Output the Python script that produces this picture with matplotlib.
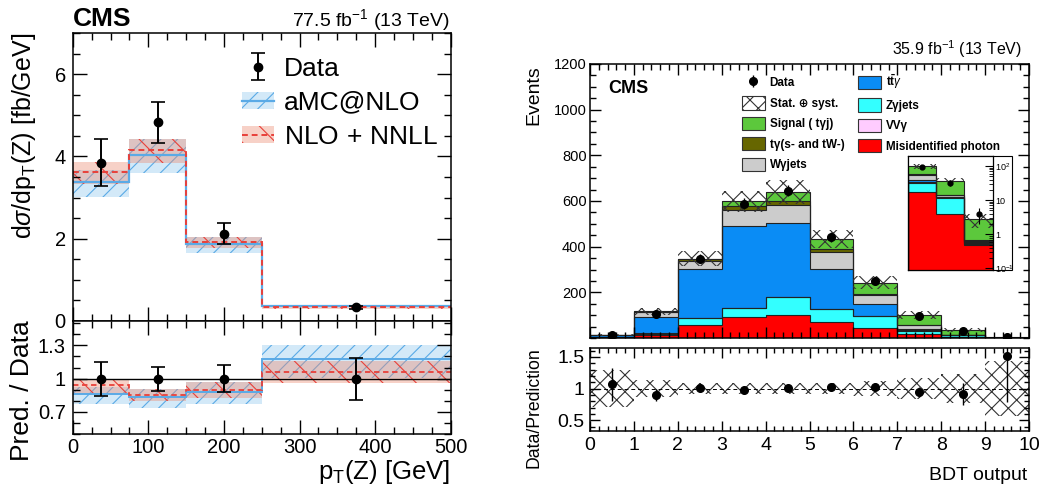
import numpy as np
import matplotlib.pyplot as plt
from matplotlib.patches import Patch, Rectangle
from matplotlib.lines import Line2D
from matplotlib.ticker import MultipleLocator, FixedLocator, NullFormatter

plt.rcParams['font.family'] = ['Liberation Sans', 'DejaVu Sans']
plt.rcParams['mathtext.fontset'] = 'custom'
plt.rcParams['mathtext.rm'] = 'Liberation Sans'
plt.rcParams['mathtext.it'] = 'Liberation Sans:italic'
plt.rcParams['mathtext.bf'] = 'Liberation Sans:bold'
plt.rcParams['hatch.linewidth'] = 0.8

# ---- left: differential cross section in pT(Z)
pt_edges = [0, 75, 150, 250, 500]
pt_centers = [37.5, 112.5, 200, 375]
xs_data = [3.85, 4.83, 2.12, 0.33]
xs_data_hi = [4.42, 5.33, 2.37, 0.36]
xs_data_lo = [3.28, 4.32, 1.86, 0.30]
amc = [3.38, 4.03, 1.88, 0.37]
amc_hi = [3.68, 4.42, 2.05, 0.40]
amc_lo = [3.02, 3.59, 1.66, 0.34]
nnll = [3.62, 4.15, 1.92, 0.33]
nnll_hi = [3.86, 4.43, 2.05, 0.37]
nnll_lo = [3.32, 3.83, 1.78, 0.30]

ratio_data = [1.0, 1.0, 1.0, 1.0]
ratio_data_hi = [1.153, 1.107, 1.12, 1.187]
ratio_data_lo = [0.847, 0.887, 0.88, 0.81]
amc_ratio = [0.862, 0.83, 0.88, 1.18]
amc_ratio_hi = [0.92, 0.91, 0.97, 1.30]
amc_ratio_lo = [0.773, 0.734, 0.773, 1.01]
nnll_ratio = [0.94, 0.856, 0.90, 1.06]
nnll_ratio_hi = [0.988, 0.91, 0.97, 1.16]
nnll_ratio_lo = [0.862, 0.80, 0.826, 0.963]

# ---- right: BDT output
bdt_edges = np.arange(0, 11)
bdt_centers = np.arange(0.5, 10, 1.0)
misid = [2, 15, 55, 90, 99, 72, 43, 17.5, 3.8, 0.46]
zgam = [1.5, 4, 32, 40, 79, 53, 53, 14.5, 7.8, 0.05]
vvg = [0.3, 1, 1, 1, 1, 1, 1, 3, 0.5, 0.02]
ttg = [7.5, 71, 213, 359, 325, 178, 52, 4, 0.4, 0.05]
wg = [2, 22, 37, 72, 77, 73, 41, 17, 1.5, 0.05]
tg = [0.2, 1, 7, 15, 18, 11, 4, 1, 0.3, 0.02]
signal = [0.5, 4, 3, 21, 40, 47, 49, 43, 22, 2.1]
bdt_data = [15, 106, 348, 587, 645, 442, 251, 95, 32, 4]
bdt_data_err = [4, 10, 19, 24, 25, 21, 16, 10, 6, 2]
unc_rel = [0.29, 0.13, 0.09, 0.08, 0.08, 0.09, 0.12, 0.17, 0.23, 0.43]
bdt_ratio = [1.065, 0.90, 1.01, 0.984, 1.01, 1.02, 1.03, 0.94, 0.91, 1.52]
bdt_ratio_err = [0.26, 0.09, 0.05, 0.04, 0.04, 0.05, 0.06, 0.08, 0.17, 0.74]

c_red = '#ff0000'
c_cyan = '#33ffff'
c_pink = '#ffccff'
c_blue = '#0a8cf5'
c_grey = '#cccccc'
c_olive = '#666600'
c_green = '#5cc83c'
c_bline = '#5aaae6'
c_bfill = '#d3e9f8'
c_rline = '#e8403a'
c_rfill = (0.93, 0.55, 0.45, 0.4)

W, H = 1049, 492
fig = plt.figure(figsize=(W / 100, H / 100), dpi=100)


def box(x0, y0, x1, y1):
    return [x0 / W, 1 - y1 / H, (x1 - x0) / W, (y1 - y0) / H]


def style(ax, major, minor, pad):
    ax.tick_params(which='both', direction='in', top=True, right=True, width=1.0)
    ax.tick_params(which='major', length=major, pad=pad)
    ax.tick_params(which='minor', length=minor)
    for s in ax.spines.values():
        s.set_linewidth(1.1)


ax1 = fig.add_axes(box(72.7, 33, 450.7, 321))
ax2 = fig.add_axes(box(72.7, 321, 450.7, 434))

# bands
ax1.stairs(amc_hi, pt_edges, baseline=amc_lo, fill=True, facecolor=c_bfill,
           edgecolor=c_bline, hatch='//', linewidth=0)
ax1.stairs(nnll_hi, pt_edges, baseline=nnll_lo, fill=True, facecolor=c_rfill,
           edgecolor=c_rline, hatch='\\', linewidth=0)
ax1.stairs(amc, pt_edges, baseline=None, color=c_bline, lw=1.6)
ax1.stairs(nnll, pt_edges, baseline=None, color=c_rline, lw=1.4, ls=(0, (3, 2)))
yerr = [np.subtract(xs_data, xs_data_lo), np.subtract(xs_data_hi, xs_data)]
eb1 = ax1.errorbar(pt_centers, xs_data, yerr=yerr, fmt='o', color='k', ms=6, lw=1.4,
                   capsize=5, capthick=1.2)
ax1.set_xlim(0, 500)
ax1.set_ylim(0, 7)
ax1.xaxis.set_major_locator(MultipleLocator(100))
ax1.xaxis.set_minor_locator(MultipleLocator(25))
ax1.yaxis.set_major_locator(FixedLocator([0, 2, 4, 6]))
ax1.yaxis.set_minor_locator(MultipleLocator(0.5))
ax1.xaxis.set_major_formatter(NullFormatter())
style(ax1, 10, 5, 5)
ax1.tick_params(labelsize=14.5)

h_amc = (Patch(facecolor=c_bfill, edgecolor=c_bline, hatch='//', lw=0),
         Line2D([], [], color=c_bline, lw=1.6))
h_nnll = (Patch(facecolor=c_rfill, edgecolor=c_rline, hatch='\\', lw=0),
          Line2D([], [], color=c_rline, lw=1.4, ls=(0, (3, 2))))
ax1.legend([eb1, h_amc, h_nnll], ['Data', 'aMC@NLO', r'NLO$\,+\,$NNLL'],
           loc='upper left', bbox_to_anchor=(0.42, 0.955), frameon=False,
           fontsize=19, handlelength=1.2, handleheight=0.6, labelspacing=0.38,
           handletextpad=0.4, borderaxespad=0)

# ratio
ax2.stairs(amc_ratio_hi, pt_edges, baseline=amc_ratio_lo, fill=True, facecolor=c_bfill,
           edgecolor=c_bline, hatch='//', linewidth=0)
ax2.stairs(nnll_ratio_hi, pt_edges, baseline=nnll_ratio_lo, fill=True,
           facecolor=c_rfill, edgecolor=c_rline, hatch='\\', linewidth=0)
ax2.axhline(1, color='k', lw=1.0)
ax2.stairs(amc_ratio, pt_edges, baseline=None, color=c_bline, lw=1.4)
ax2.stairs(nnll_ratio, pt_edges, baseline=None, color=c_rline, lw=1.3, ls=(0, (3, 2)))
ryerr = [np.subtract(ratio_data, ratio_data_lo), np.subtract(ratio_data_hi, ratio_data)]
ax2.errorbar(pt_centers, ratio_data, yerr=ryerr, fmt='o', color='k', ms=6, lw=1.4,
             capsize=5, capthick=1.2)
ax2.set_xlim(0, 500)
ax2.set_ylim(0.5, 1.52)
ax2.xaxis.set_major_locator(MultipleLocator(100))
ax2.xaxis.set_minor_locator(MultipleLocator(25))
ax2.set_yticks([0.7, 1.0, 1.3], ['0.7', '1', '1.3'])
ax2.yaxis.set_minor_locator(MultipleLocator(0.1))
style(ax2, 10, 5, 5)
ax2.tick_params(axis='x', pad=3)
ax2.tick_params(labelsize=14.5)

fig.text(73 / W, 1 - 26 / H, 'CMS', fontsize=19, fontweight='bold', ha='left', va='baseline')
fig.text(450 / W, 1 - 26 / H, r'77.5 fb$^{-1}$ (13 TeV)', fontsize=14, ha='right', va='baseline')
fig.text(24 / W, 1 - 33 / H, r'd$\sigma$/dp$_\mathrm{T}$(Z) [fb/GeV]', fontsize=18,
         rotation=90, ha='center', va='top')
fig.text(22 / W, 1 - 320 / H, 'Pred. / Data', fontsize=19, rotation=90, ha='center', va='top')
fig.text(450 / W, 1 - 479 / H, r'p$_\mathrm{T}$(Z) [GeV]', fontsize=18.5, ha='right', va='baseline')

# ---- right panel
ax3 = fig.add_axes(box(590, 64, 1029, 338))
ax4 = fig.add_axes(box(590, 348, 1029, 431))

layers = [(misid, c_red), (zgam, c_cyan), (vvg, c_pink), (ttg, c_blue),
          (wg, c_grey), (tg, c_olive), (signal, c_green)]


def draw_stack(ax, sl, floor):
    edges = bdt_edges[sl.start:sl.stop + 1]
    base = np.full(sl.stop - sl.start, floor, dtype=float)
    tops = []
    for vals, col in layers:
        top = base + np.asarray(vals[sl], dtype=float)
        ax.stairs(top, edges, baseline=base, fill=True, color=col, lw=0)
        tops.append(top)
        base = top
    for top in tops:
        ax.stairs(top, edges, baseline=floor, color='#222222', lw=0.8)
    total = tops[-1]
    rel = np.asarray(unc_rel[sl])
    ax.stairs(total * (1 + rel), edges, baseline=total * (1 - rel), fill=True,
              facecolor='none', edgecolor='#333333', hatch='xx', lw=0)
    return total


draw_stack(ax3, slice(0, 10), 0)
eb3 = ax3.errorbar(bdt_centers, bdt_data, yerr=bdt_data_err, fmt='o', color='k', ms=5.5,
                   lw=1.0, capsize=0)
ax3.set_xlim(0, 10)
ax3.set_ylim(0, 1200)
ax3.xaxis.set_major_locator(MultipleLocator(1))
ax3.xaxis.set_minor_locator(MultipleLocator(0.2))
ax3.set_yticks([200, 400, 600, 800, 1000, 1200])
ax3.yaxis.set_minor_locator(MultipleLocator(50))
ax3.xaxis.set_major_formatter(NullFormatter())
style(ax3, 8, 4, 2.5)
ax3.tick_params(labelsize=10.5)
ax3.text(608 / W, 1 - 93 / H, 'CMS', transform=fig.transFigure, fontsize=13,
         fontweight='bold', va='baseline')

hand = [eb3,
        Patch(facecolor='white', edgecolor='#333333', hatch='xx', lw=0.8),
        Patch(facecolor=c_green, edgecolor='#333333', lw=0.8),
        Patch(facecolor=c_olive, edgecolor='#333333', lw=0.8),
        Patch(facecolor=c_grey, edgecolor='#333333', lw=0.8),
        Patch(facecolor=c_blue, edgecolor='#333333', lw=0.8),
        Patch(facecolor=c_cyan, edgecolor='#333333', lw=0.8),
        Patch(facecolor=c_pink, edgecolor='#333333', lw=0.8),
        Patch(facecolor=c_red, edgecolor='#333333', lw=0.8)]
labs = ['Data', 'Stat. \u2295 syst.', 'Signal ( t\u03b3j)', 't\u03b3(s- and tW-)',
        'W\u03b3jets', r'$\mathbf{t\bar{t}}\gamma$', 'Z\u03b3jets', 'VV\u03b3',
        'Misidentified photon']
ax3.legend(hand, labs, ncol=2, loc='upper left', bbox_to_anchor=(0.335, 0.985),
           frameon=False, prop={'size': 8.4, 'weight': 'bold'}, handlelength=2.0,
           handleheight=1.35, labelspacing=0.6, handletextpad=0.4,
           columnspacing=1.15, borderaxespad=0)

# inset
fig.patches.append(Rectangle((907.7 / W, 1 - 270 / H), 104 / W, 114.3 / H,
                             transform=fig.transFigure, facecolor='white',
                             edgecolor='k', lw=0.8, zorder=2))
ax_in = fig.add_axes(box(907.7, 155.7, 992.7, 270))
ax_in.set_zorder(5)
draw_stack(ax_in, slice(7, 10), 0.01)
ax_in.errorbar(bdt_centers[7:], bdt_data[7:], yerr=bdt_data_err[7:], fmt='o', color='k',
               ms=3.5, lw=0.8, capsize=0)
ax_in.set_yscale('log')
ax_in.set_xlim(7, 10)
ax_in.set_ylim(0.09, 200)
ax_in.set_xticks([])
ax_in.set_yticks([0.1, 1, 10, 100], ['10$^{-1}$', '1', '10', '10$^{2}$'])
ax_in.tick_params(axis='y', which='both', direction='in', left=False, right=True,
                  labelleft=False, labelright=True, labelsize=6.5, pad=2)
ax_in.tick_params(axis='y', which='major', length=6)
ax_in.tick_params(axis='y', which='minor', length=3)
for s in ax_in.spines.values():
    s.set_linewidth(0.9)

# ratio right
rel = np.asarray(unc_rel)
ax4.stairs(1 + rel, bdt_edges, baseline=1 - rel, fill=True, facecolor='none',
           edgecolor='#333333', hatch='xx', lw=0)
ax4.axhline(1, color='k', lw=0.7, ls=(0, (4, 3)))
ax4.errorbar(bdt_centers, bdt_ratio, yerr=bdt_ratio_err, fmt='o', color='k', ms=5.5,
             lw=1.0, capsize=0)
ax4.set_xlim(0, 10)
ax4.set_ylim(0.33, 1.64)
ax4.xaxis.set_major_locator(MultipleLocator(1))
ax4.xaxis.set_minor_locator(MultipleLocator(0.2))
ax4.set_yticks([0.5, 1.0, 1.5], ['0.5', '1', '1.5'])
ax4.yaxis.set_minor_locator(MultipleLocator(0.1))
style(ax4, 7, 3.5, 4)
ax4.tick_params(labelsize=14)

fig.text(1022 / W, 1 - 55 / H, r'35.9 fb$^{-1}$ (13 TeV)', fontsize=11.5, ha='right', va='baseline')
fig.text(534 / W, 1 - 65 / H, 'Events', fontsize=14, rotation=90, ha='center', va='top')
fig.text(534 / W, 1 - 347 / H, 'Data/Prediction', fontsize=12.7, rotation=90,
         ha='center', va='top')
fig.text(1027 / W, 1 - 480 / H, 'BDT output', fontsize=14, ha='right', va='baseline')

fig.savefig('out.png', dpi=100)
